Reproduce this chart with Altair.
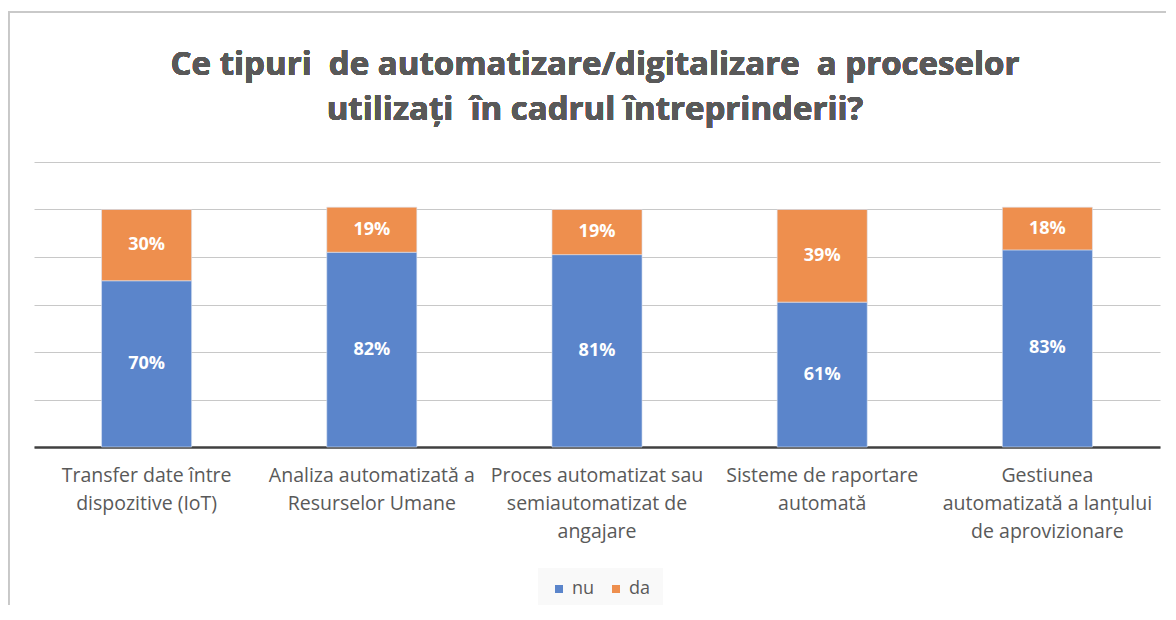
import altair as alt
import pandas as pd

categories = [
    "Transfer date între|dispozitive (IoT)",
    "Analiza automatizată a|Resurselor Umane",
    "Proces automatizat sau|semiautomatizat de|angajare",
    "Sisteme de raportare|automată",
    "Gestiunea|automatizată a lanțului|de aprovizionare",
]
nu_values = [70, 82, 81, 61, 83]
da_values = [30, 19, 19, 39, 18]
series = ["nu", "da"]
colors = ["#5B85CB", "#EE8F4E"]
title_lines = [
    "Ce tipuri\u00a0 de automatizare/digitalizare\u00a0 a proceselor",
    "utilizați\u00a0 în cadrul întreprinderii?",
]

rows = []
for c, nu, da in zip(categories, nu_values, da_values):
    rows.append({"cat": c, "serie": "nu", "ord": 0, "value": nu})
    rows.append({"cat": c, "serie": "da", "ord": 1, "value": da})
df = pd.DataFrame(rows)

FONT = "Open Sans"
GREY = "#595959"

base = alt.Chart(df).transform_stack(
    stack="value", groupby=["cat"], as_=["v0", "v1"], sort=[alt.SortField("ord")]
).transform_calculate(
    mid="(datum.v0 + datum.v1) / 2",
    lbl="datum.value + '%'",
)

x_enc = alt.X(
    "cat:N",
    sort=categories,
    title=None,
    scale=alt.Scale(paddingInner=0.6, paddingOuter=0.3),
    axis=alt.Axis(
        labelExpr="split(datum.label, '|')",
        labelAngle=0,
        labelFont=FONT,
        labelFontSize=19.5,
        labelColor=GREY,
        labelLineHeight=28,
        labelPadding=19,
        labelBaseline="top",
        ticks=False,
        domainColor="#404040",
        domainWidth=2.5,
        labelLimit=400,
    ),
)

bars = base.mark_bar(stroke="#dbe4f3", strokeWidth=0.6).encode(
    x=x_enc,
    y=alt.Y(
        "v0:Q",
        title=None,
        scale=alt.Scale(domain=[0, 120]),
        axis=alt.Axis(
            values=[0, 20, 40, 60, 80, 100, 120],
            labels=False,
            ticks=False,
            domain=False,
            gridColor="#c8c8c8",
            gridWidth=1,
        ),
    ),
    y2="v1:Q",
    color=alt.Color(
        "serie:N",
        sort=series,
        scale=alt.Scale(domain=series, range=colors),
        legend=alt.Legend(
            title=None,
            orient="none",
            legendX=504,
            legendY=406,
            direction="horizontal",
            symbolType="square",
            symbolSize=64,
            symbolStrokeWidth=0,
            labelFont=FONT,
            labelFontSize=18,
            labelColor=GREY,
            columnPadding=12,
            labelOffset=4,
            fillColor="#f9f9f9",
            padding=12,
        ),
    ),
    order=alt.Order("ord:Q"),
)

labels = base.mark_text(
    color="white", font=FONT, fontWeight="bold", fontSize=18, baseline="middle"
).encode(
    x=alt.X("cat:N", sort=categories),
    y=alt.Y("mid:Q"),
    text="lbl:N",
)

title = alt.Chart(df).mark_text(
    font=FONT, fontSize=33, fontWeight="bold", color=GREY,
    baseline="alphabetic", align="center", lineHeight=45,
).encode(
    x=alt.value(561), y=alt.value(-87), text=alt.value(title_lines)
)

border_top = alt.Chart(df).mark_rule(color="#c8c8c8", strokeWidth=1.5).encode(
    x=alt.value(-26), x2=alt.value(1140), y=alt.value(-150)
)
border_left = alt.Chart(df).mark_rule(color="#c8c8c8", strokeWidth=1.5).encode(
    x=alt.value(-25.5), y=alt.value(-150), y2=alt.value(460)
)

chart = alt.layer(bars, labels, title, border_top, border_left).properties(
    width=1126,
    height=285,
    autosize=alt.AutoSizeParams(type="none"),
    padding={"left": 26, "top": 154, "right": 6, "bottom": 158},
).configure(background="white").configure_view(stroke="transparent", strokeWidth=0)

chart.save("out.html", embed_options={"renderer": "svg", "actions": False})
